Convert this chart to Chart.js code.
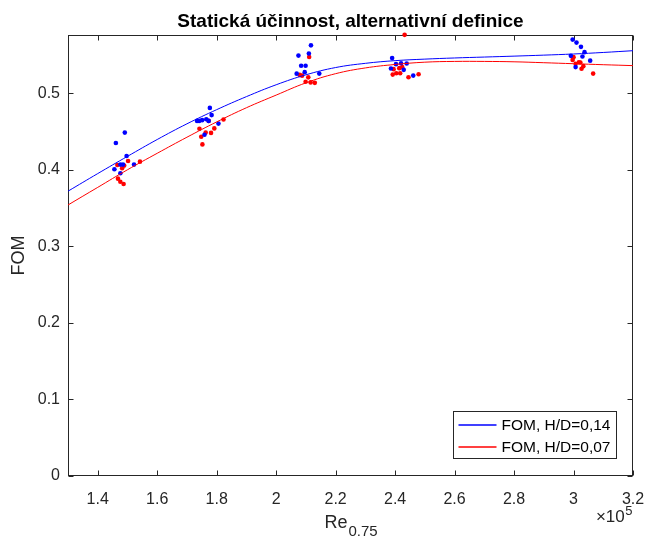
<!DOCTYPE html>
<html><head><meta charset="utf-8">
<script src="https://cdn.jsdelivr.net/npm/chart.js@4/dist/chart.umd.min.js"></script>
<style>html,body{margin:0;padding:0;background:#fff;}canvas{display:block;}</style>
</head><body>
<canvas id="c" width="646" height="538"></canvas>
<script>
const chartTitle = "Statická účinnost, alternativní definice";
const xTitle = "Re";
const xTitleSub = "0.75";
const yTitle = "FOM";
const xExpBase = "×10";
const xExp = "5";
const xTicks = [1.4, 1.6, 1.8, 2.0, 2.2, 2.4, 2.6, 2.8, 3.0, 3.2];
const yTicks = [0, 0.1, 0.2, 0.3, 0.4, 0.5];
const seriesLabels = ["FOM, H/D=0,14", "FOM, H/D=0,07"];

const blueX = [1.461,1.491,1.497,1.456,1.476,1.485,1.522,1.476,
  1.777,1.783,1.734,1.741,1.751,1.765,1.773,1.806,1.759,
  2.117,2.075,2.110,2.084,2.099,2.069,2.096,2.145,
  2.390,2.403,2.420,2.439,2.386,2.429,2.461,
  2.997,3.010,3.025,3.037,2.991,3.030,3.056,3.007];
const blueY = [0.435,0.4485,0.418,0.4007,0.4067,0.4067,0.4067,0.3955,
  0.4808,0.4714,0.4638,0.4638,0.4648,0.466,0.4638,0.4603,0.4458,
  0.5625,0.5491,0.5518,0.5359,0.5359,0.5255,0.5275,0.5256,
  0.5458,0.5379,0.5392,0.5387,0.5322,0.5305,0.523,
  0.570,0.5661,0.5605,0.5536,0.5488,0.548,0.5425,0.5341];
const redX = [1.466,1.482,1.489,1.502,1.542,1.468,1.476,1.487,
  1.773,1.742,1.792,1.823,1.763,1.781,1.748,1.752,
  2.111,2.079,2.087,2.108,2.099,2.116,2.130,
  2.432,2.395,2.414,2.424,2.392,2.404,2.417,2.445,2.479,
  3.000,2.997,3.018,3.023,3.007,3.033,3.027,3.066];
const redY = [0.4063,0.402,0.4054,0.4115,0.4106,0.3884,0.3844,0.3814,
  0.4638,0.4536,0.454,0.4656,0.4485,0.4481,0.4431,0.4331,
  0.5472,0.5239,0.5229,0.5207,0.515,0.5141,0.5135,
  0.5762,0.5314,0.5327,0.534,0.5243,0.5261,0.5261,0.5209,0.5248,
  0.5471,0.5435,0.5405,0.54,0.5383,0.5353,0.532,0.5256];

const fitX = [1.3,1.4,1.5,1.6,1.7,1.8,1.9,2.0,2.1,2.2,2.3,2.4,2.5,2.6,2.7,2.8,2.9,3.0,3.1,3.2];
const blueFit = [0.372,0.395,0.4175,0.4395,0.46,0.4785,0.4955,0.511,0.524,0.5335,0.539,0.5425,0.5445,0.546,0.5472,0.5484,0.5497,0.5512,0.5532,0.5555];
const redFit = [0.354,0.377,0.400,0.4215,0.4425,0.4625,0.481,0.4975,0.5135,0.5255,0.533,0.5375,0.5405,0.5415,0.5415,0.541,0.5398,0.5385,0.5372,0.536];

const FONT = "'Liberation Sans', Arial, Helvetica, sans-serif";
const AX = '#262626';
const BLUE = '#0000ff', RED = '#ff0000';

const pts = (xs, ys) => xs.map((v, i) => ({x: v, y: ys[i]}));

const matlabPlugin = {
  id: 'matlab',
  beforeDatasetsDraw(chart) {
    const {ctx, chartArea: a, scales: {x, y}} = chart;
    ctx.save();
    ctx.strokeStyle = AX; ctx.lineWidth = 1;
    const L = Math.round(a.left) + 0.5, R = Math.round(a.right) - 0.5;
    const T = Math.round(a.top) + 0.5, B = Math.round(a.bottom) - 0.5;
    ctx.strokeRect(L, T, R - L, B - T);
    ctx.beginPath();
    xTicks.forEach(v => {
      const p = Math.round(x.getPixelForValue(v)) + 0.5;
      ctx.moveTo(p, B); ctx.lineTo(p, B - 5);
      ctx.moveTo(p, T); ctx.lineTo(p, T + 5);
    });
    yTicks.forEach(v => {
      const p = Math.round(y.getPixelForValue(v)) + 0.5;
      ctx.moveTo(L, p); ctx.lineTo(L + 5, p);
      ctx.moveTo(R, p); ctx.lineTo(R - 5, p);
    });
    ctx.stroke();
    ctx.restore();
  },
  afterDraw(chart) {
    const {ctx, chartArea: a} = chart;
    const cx = (a.left + a.right) / 2;
    ctx.save();
    // title
    ctx.fillStyle = '#000';
    ctx.font = 'bold 19px ' + FONT;
    ctx.textAlign = 'center'; ctx.textBaseline = 'alphabetic';
    ctx.fillText(chartTitle, cx, 27);
    // x title with subscript
    ctx.fillStyle = AX;
    ctx.textAlign = 'left';
    ctx.font = '18px ' + FONT;
    const w1 = ctx.measureText(xTitle).width;
    ctx.font = '15px ' + FONT;
    const w2 = ctx.measureText(xTitleSub).width;
    const sx = cx - (w1 + w2) / 2;
    ctx.font = '18px ' + FONT;
    ctx.fillText(xTitle, sx, a.bottom + 52);
    ctx.font = '15px ' + FONT;
    ctx.fillText(xTitleSub, sx + w1 + 1, a.bottom + 60);
    // exponent
    ctx.font = '17px ' + FONT;
    const e1 = ctx.measureText(xExpBase).width;
    ctx.font = '13px ' + FONT;
    const e2 = ctx.measureText(xExp).width;
    const ex = a.right - 1 - e1 - e2;
    ctx.font = '17px ' + FONT;
    ctx.fillText(xExpBase, ex, a.bottom + 46);
    ctx.font = '13px ' + FONT;
    ctx.fillText(xExp, ex + e1 + 0.5, a.bottom + 39);
    // y title
    ctx.save();
    ctx.translate(19, (a.top + a.bottom) / 2);
    ctx.rotate(-Math.PI / 2);
    ctx.font = '18px ' + FONT;
    ctx.textAlign = 'center'; ctx.textBaseline = 'middle';
    ctx.fillText(yTitle, 0, 0);
    ctx.restore();
    // legend
    const lw = 163, lh = 47;
    const lx = Math.round(a.right - 17 - lw) + 0.5, ly = Math.round(a.bottom - 18 - lh) + 0.5;
    ctx.fillStyle = '#fff';
    ctx.fillRect(lx, ly, lw, lh);
    ctx.strokeStyle = AX; ctx.lineWidth = 1;
    ctx.strokeRect(lx, ly, lw, lh);
    const fits = chart.data.datasets.filter(d => d.isFit);
    fits.forEach((d, i) => {
      const ry = Math.round(ly + 13 + i * 22);
      ctx.strokeStyle = d.borderColor; ctx.lineWidth = 1.3;
      ctx.beginPath(); ctx.moveTo(lx + 5, ry); ctx.lineTo(lx + 43, ry); ctx.stroke();
      ctx.fillStyle = '#000';
      ctx.font = '15.5px ' + FONT;
      ctx.textAlign = 'left'; ctx.textBaseline = 'middle';
      ctx.fillText(d.label, lx + 48, ry + 1);
    });
    ctx.restore();
  }
};

new Chart(document.getElementById('c'), {
  type: 'scatter',
  data: {
    datasets: [
      {label: seriesLabels[0], isFit: true, data: pts(fitX, blueFit), showLine: true, borderColor: BLUE, borderWidth: 1, pointRadius: 0, tension: 0.4, fill: false},
      {label: seriesLabels[1], isFit: true, data: pts(fitX, redFit), showLine: true, borderColor: RED, borderWidth: 1, pointRadius: 0, tension: 0.4, fill: false},
      {label: 'blue data', data: pts(blueX, blueY), pointRadius: 2.3, backgroundColor: BLUE, borderWidth: 0, clip: 6},
      {label: 'red data', data: pts(redX, redY), pointRadius: 2.3, backgroundColor: RED, borderWidth: 0, clip: 6}
    ]
  },
  options: {
    responsive: false,
    animation: false,
    layout: {padding: {left: 0, right: 13, top: 35, bottom: 0}},
    plugins: {legend: {display: false}, tooltip: {enabled: false}, title: {display: false}},
    scales: {
      x: {
        type: 'linear', min: 1.3, max: 3.2,
        grid: {display: false, drawTicks: false},
        border: {display: false},
        afterFit: s => { s.height = 62; s.paddingLeft = 0; s.paddingRight = 0; },
        afterBuildTicks: s => { s.ticks = xTicks.map(v => ({value: v})); },
        ticks: {color: AX, font: {family: FONT, size: 16}, padding: 14, maxRotation: 0, autoSkip: false,
          callback: v => String(Number(v.toFixed(1)))}
      },
      y: {
        type: 'linear', min: 0, max: 0.576,
        grid: {display: false, drawTicks: false},
        border: {display: false},
        afterFit: s => { s.width = 68; s.paddingTop = 0; s.paddingBottom = 0; },
        afterBuildTicks: s => { s.ticks = yTicks.map(v => ({value: v})); },
        ticks: {color: AX, font: {family: FONT, size: 16}, padding: 8, autoSkip: false,
          callback: v => String(Number(v.toFixed(1)))}
      }
    }
  },
  plugins: [matlabPlugin]
});
</script>
</body></html>
